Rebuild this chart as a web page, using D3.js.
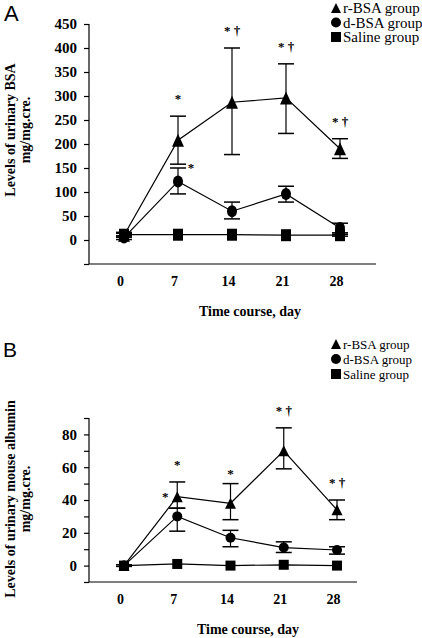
<!DOCTYPE html>
<html>
<head>
<meta charset="utf-8">
<script src="https://cdn.jsdelivr.net/npm/d3@7"></script>
<style>
  html, body { margin: 0; padding: 0; background: #fff; }
  svg { display: block; }
</style>
</head>
<body>
<svg id="chart" width="422" height="638"></svg>
<script>
// ---------- data ----------
const days = [0, 7, 14, 21, 28];
const xTickLabels = ["0", "7", "14", "21", "28"];
const seriesNames = ["r-BSA group", "d-BSA group", "Saline group"];

// Panel A: urinary BSA (mg/mg.cre.)
const yTicksA = [-50, 0, 50, 100, 150, 200, 250, 300, 350, 400, 450];
const yLabelsA = [0, 50, 100, 150, 200, 250, 300, 350, 400, 450];
const rBsaA      = [10, 208, 287, 296, 190];
const rBsaAHi    = [14, 258, 400, 367, 211];
const rBsaALo    = [6, 158, 178, 222, 170];
const dBsaA      = [5, 122, 60, 96, 25];
const dBsaAHi    = [9, 150, 79, 112, 35];
const dBsaALo    = [1, 96, 44, 79, 15];
const salineA    = [11, 11, 11, 10, 10];
const salineAHi  = [16, 11, 11, 10, 12];
const salineALo  = [6, 11, 11, 10, 8];

// Panel B: urinary mouse albumin (mg/mg.cre.)
const yTicksB = [-10, 0, 10, 20, 30, 40, 50, 60, 70, 80, 90];
const yLabelsB = [0, 20, 40, 60, 80];
const rBsaB      = [0, 42, 38, 70, 34];
const rBsaBHi    = [0.5, 51, 50, 84, 40];
const rBsaBLo    = [-0.5, 35, 28, 59, 28];
const dBsaB      = [0, 30, 17, 11, 9.5];
const dBsaBHi    = [0, 35, 21.5, 14.5, 11.5];
const dBsaBLo    = [0, 21, 11.5, 8, 7];
const salineB    = [0, 1, 0, 0.5, 0];
const salineBHi  = [0, 1, 0, 0.5, 0];
const salineBLo  = [0, 1, 0, 0.5, 0];

// significance marks (day, series index, text)
const marksA = [
  {day: 7, s: 0, text: "*"},
  {day: 14, s: 0, text: "* \u2020"},
  {day: 21, s: 0, text: "* \u2020"},
  {day: 28, s: 0, text: "* \u2020"},
  {day: 7, s: 1, text: "*", side: true}
];
const marksB = [
  {day: 7, s: 0, text: "*"},
  {day: 14, s: 0, text: "*", near: true},
  {day: 21, s: 0, text: "* \u2020"},
  {day: 28, s: 0, text: "* \u2020"},
  {day: 7, s: 0, text: "*", left: true}
];

// ---------- drawing ----------
const svg = d3.select("#chart");
const SERIF = "'Liberation Serif', 'Times New Roman', serif";
const SANS = "'Liberation Sans', Arial, sans-serif";

function marker(g, type, x, y, w, h) {
  if (type === 0) {
    g.append("path")
      .attr("d", `M${x},${y - h / 2}L${x + w / 2},${y + h / 2}L${x - w / 2},${y + h / 2}Z`)
      .attr("fill", "#000");
  } else if (type === 1) {
    g.append("ellipse").attr("cx", x).attr("cy", y).attr("rx", w / 2).attr("ry", h / 2).attr("fill", "#000");
  } else {
    g.append("rect").attr("x", x - w / 2).attr("y", y - h / 2).attr("width", w).attr("height", h).attr("fill", "#000");
  }
}

function drawPanel(cfg) {
  const g = svg.append("g");
  const x = d3.scaleLinear().domain([0, 28]).range(cfg.xRange);
  const y = d3.scaleLinear().domain(cfg.yDomain).range(cfg.yRange);

  // y axis
  const yAxis = d3.axisLeft(y).tickValues(cfg.yTicks).tickSize(5)
    .tickFormat(d => cfg.yLabels.includes(d) ? d : "");
  const ya = g.append("g").attr("transform", `translate(${cfg.axisX},0)`).call(yAxis);
  ya.select(".domain").attr("d", `M0,${cfg.yRange[1]}V${cfg.yRange[0]}`).attr("stroke", "#000").attr("stroke-width", 1.2);
  ya.selectAll(".tick line").attr("stroke", "#000").attr("stroke-width", 1.2);
  ya.selectAll(".tick text").attr("x", -12).style("font-family", SERIF)
    .style("font-weight", "bold").style("font-size", cfg.yFont + "px").attr("fill", "#000");

  // x axis (line only, labels under data positions)
  const xAxis = d3.axisBottom(x).tickValues(days).tickSize(0)
    .tickFormat((d, i) => xTickLabels[i]);
  const xa = g.append("g").attr("transform", `translate(0,${cfg.yRange[0]})`).call(xAxis);
  xa.select(".domain").attr("d", `M${cfg.axisX},0H${cfg.axisEnd}`).attr("stroke", "#000").attr("stroke-width", 1.2);
  xa.selectAll(".tick text").attr("y", 0).attr("dy", cfg.xLabelDy).attr("dx", -4)
    .style("font-family", SERIF).style("font-weight", "bold").style("font-size", "14px").attr("fill", "#000");

  // axis titles
  g.append("text").attr("x", cfg.xTitle[0]).attr("y", cfg.xTitle[1])
    .attr("text-anchor", "middle").style("font-family", SERIF).style("font-weight", "bold").style("font-size", "14px")
    .text("Time course, day");
  cfg.yTitle.forEach((t, i) => {
    g.append("text")
      .attr("transform", `translate(${cfg.yTitleX[i]},${cfg.yTitleY}) rotate(-90)`)
      .attr("text-anchor", "middle").attr("dominant-baseline", "central")
      .style("font-family", SERIF).style("font-weight", "bold").style("font-size", "14px").text(t);
  });

  // panel letter
  g.append("text").attr("x", cfg.letterPos[0]).attr("y", cfg.letterPos[1])
    .style("font-family", SANS).style("font-size", cfg.letterSize + "px").text(cfg.letter);

  // series
  const line = d3.line().x((d, i) => x(days[i])).y(d => y(d));
  const cap = 8;
  cfg.series.forEach((s) => {
    g.append("path").attr("d", line(s.v)).attr("fill", "none").attr("stroke", "#000").attr("stroke-width", 1.2);
    s.v.forEach((v, i) => {
      const cx = x(days[i]);
      if (s.hi[i] !== s.lo[i]) {
        g.append("line").attr("x1", cx).attr("x2", cx).attr("y1", y(s.hi[i])).attr("y2", y(s.lo[i]))
          .attr("stroke", "#000").attr("stroke-width", 1.2);
        [s.hi[i], s.lo[i]].forEach(e => {
          g.append("line").attr("x1", cx - cap).attr("x2", cx + cap).attr("y1", y(e)).attr("y2", y(e))
            .attr("stroke", "#000").attr("stroke-width", 1.5);
        });
      }
    });
  });
  // markers on top
  cfg.series.slice().reverse().forEach((s, ri) => {
    const si = cfg.series.length - 1 - ri;
    s.v.forEach((v, i) => marker(g, si, x(days[i]), y(v), cfg.mk[si][0], cfg.mk[si][1]));
  });

  // significance marks
  cfg.marks.forEach(m => {
    const i = days.indexOf(m.day);
    const s = cfg.series[m.s];
    let mx = x(m.day), my = y(s.hi[i]) - 13;
    if (m.side) { mx = x(m.day) + 13; my = y(s.hi[i]) + 4; }
    if (m.left) { mx = x(m.day) - 12; my = y(s.v[i]) + 4; }
    if (m.near) { my = y(s.hi[i]) - 6; }
    g.append("text").attr("x", mx).attr("y", my).attr("text-anchor", "middle")
      .style("font-family", SERIF).style("font-size", "13px").style("font-weight", "bold")
      .attr("fill", "#000").text(m.text);
  });

  // legend
  seriesNames.forEach((n, i) => {
    const ly = cfg.legendY + i * cfg.legendStep;
    marker(g, i, cfg.legendX, ly, 10, 10);
    g.append("text").attr("x", cfg.legendX + 7).attr("y", ly).attr("dominant-baseline", "central")
      .style("font-family", SERIF).style("font-size", cfg.legendFont + "px").attr("fill", "#000").text(n);
  });
}

drawPanel({
  letter: "A", letterPos: [4, 21], letterSize: 22,
  xRange: [124, 340], yDomain: [-50, 450], yRange: [264, 24],
  axisX: 89, axisEnd: 376, yTicks: yTicksA, yLabels: yLabelsA, yFont: 15,
  xLabelDy: 22, xTitle: [250, 316],
  yTitle: ["Levels of urinary BSA", "mg/mg.cre."], yTitleX: [10, 25], yTitleY: 130,
  series: [
    {v: rBsaA, hi: rBsaAHi, lo: rBsaALo},
    {v: dBsaA, hi: dBsaAHi, lo: dBsaALo},
    {v: salineA, hi: salineAHi, lo: salineALo}
  ],
  mk: [[12, 13], [10, 12], [10, 12]],
  marks: marksA,
  legendX: 336, legendY: 8, legendStep: 14.5, legendFont: 15
});

drawPanel({
  letter: "B", letterPos: [3, 357], letterSize: 21,
  xRange: [124, 337], yDomain: [-10, 90], yRange: [582, 418],
  axisX: 89, axisEnd: 357, yTicks: yTicksB, yLabels: yLabelsB, yFont: 15,
  xLabelDy: 22, xTitle: [248, 634],
  yTitle: ["Levels of urinary mouse albumin", "mg/mg.cre."], yTitleX: [10, 25], yTitleY: 499,
  series: [
    {v: rBsaB, hi: rBsaBHi, lo: rBsaBLo},
    {v: dBsaB, hi: dBsaBHi, lo: dBsaBLo},
    {v: salineB, hi: salineBHi, lo: salineBLo}
  ],
  mk: [[11, 11], [10, 10], [10, 10]],
  marks: marksB,
  legendX: 336, legendY: 344, legendStep: 15, legendFont: 13
});
</script>
</body>
</html>
